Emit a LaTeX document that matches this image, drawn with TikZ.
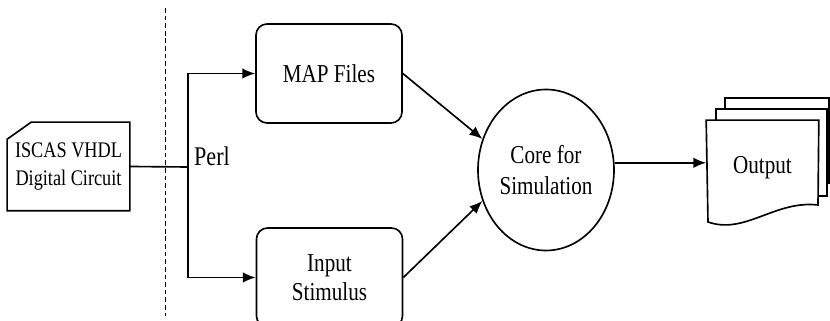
\documentclass[tikz,border=0pt]{standalone}
\usepackage{fontspec}
\setmainfont{Liberation Serif}[FakeStretch=0.82]
\usepackage{tikz}
\usetikzlibrary{calc}
\usetikzlibrary{shapes.geometric}
\usetikzlibrary{arrows.meta}

\begin{document}
\begin{tikzpicture}[x=0.03cm,y=-0.03cm,line width=1.4pt]

  \tikzset{>={Latex[length=11pt,width=9pt]}}
  \tikzset{BOX/.style={draw, rounded corners=0.33cm, minimum width=4.38cm, minimum height=2.97cm,
      align=center, font=\fontsize{22}{25}\selectfont} }
  \tikzset{TXT/.style={align=center, inner sep=0pt, font=\fontsize{22}{25}\selectfont} }

  \useasboundingbox (0,0) rectangle (830,321);
  \clip (0,0) rectangle (830,321);

  \node[TXT, minimum width=3.63cm, minimum height=2.61cm, font=\fontsize{19}{24}\selectfont]
       (vhdl) at (68.5,166.5) {ISCAS VHDL\\Digital Circuit};
  \draw (vhdl.south west) -- ($(vhdl.north west)+(0,17)$) -- ($(vhdl.north west)+(24,0)$)
        -- (vhdl.north east) -- (vhdl.south east) -- cycle;

  \coordinate (split) at (188,167);
  \node[TXT, font=\fontsize{23}{25}\selectfont] (perl) at (212,156) {Perl};

  \node[BOX] (map) at (329,73.5) {MAP Files};
  \node[BOX] (inp) at (329.5,277.5) {Input\\Stimulus};

  \node[TXT, draw, ellipse, minimum width=4.08cm, minimum height=4.83cm,
        font=\fontsize{22}{27}\selectfont] (core) at (546,170) {Core for\\Simulation};

  \node[TXT, minimum width=3.33cm, minimum height=2.82cm] (out) at (762.5,168) {Output};
  \draw (725,109) -- (725,98) -- (829,98) -- (829,183) -- (827,183);
  \draw (716,121) -- (716,109) -- (827,109) -- (827,196) -- (818,196);
  \draw (out.north west) -- (out.north east) -- (818,205)
        .. controls (775,200) and (745,235) .. (708,222) -- cycle;

  % divider
  \draw[line width=0.8pt, dash pattern=on 4pt off 2.5pt] (165,8) -- (165,316);

  \draw (vhdl.east) -- (split);
  \draw[->] (split) |- (map.west);
  \draw[->] (split) |- (inp.west);
  \draw[->] (map.east) -- (core.154);
  \draw[->] (inp.east) -- (core.206);
  \draw[->] (core.6) -- (core.6 -| out.west);
\end{tikzpicture}
\end{document}
